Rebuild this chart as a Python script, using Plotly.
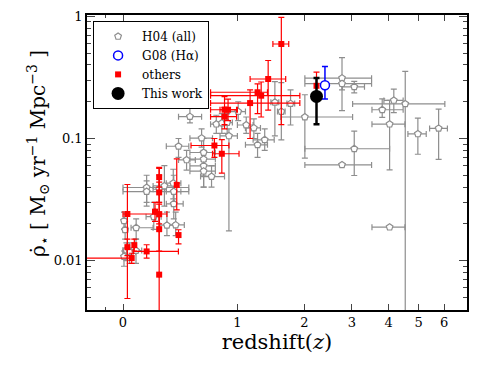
import numpy as np
import plotly.graph_objects as go

# ---------------- data ----------------
# H04 (all) compilation: redshift, redshift range, SFRD and its range
h04_z   = [2.77, 2.77, 3.06, 4.16, 4.53, 3.81, 4.03, 4.97, 5.77, 3.06, 2.77, 4.03, 2.01,
           1.51, 1.61, 1.76, 1.36, 1.26, 1.01, 1.11, 1.21, 0.50, 0.76, 0.82, 0.88, 0.61,
           0.90, 0.40, 0.47, 0.63, 0.63, 0.63, 0.63, 0.71, 0.154, 0.154, 0.245, 0.285,
           0.356, 0.36, 0.36, 0.006, 0.013, 0.083, 0.205, 0.305, 0.376, 0.006, 0.021, 0.041, 0.082]
h04_zlo = [2.01, 2.01, 2.78, 3.86, 3.02, 3.52, 3.52, 4.62, 5.41, 2.01, 2.01, 3.52, 1.60,
           1.45, 1.55, 1.70, 1.20, 1.10, 0.90, 1.00, 1.10, 0.40, 0.70, 0.76, 0.82, 0.50,
           0.80, 0.30, 0.40, 0.50, 0.50, 0.50, 0.50, 0.60, 0.0, 0.0, 0.20, 0.20,
           0.30, 0.30, 0.30, 0.0, 0.0, 0.05, 0.15, 0.25, 0.30, 0.0, 0.0, 0.0, 0.05]
h04_zhi = [3.51, 3.51, 3.32, 4.46, 6.03, 4.46, 4.52, 5.28, 6.14, 4.03, 3.51, 4.52, 3.02,
           1.57, 1.67, 1.83, 1.50, 1.40, 1.10, 1.20, 1.30, 0.61, 0.82, 0.88, 0.94, 0.72,
           1.00, 0.49, 0.55, 0.75, 0.75, 0.75, 0.75, 0.85, 0.49, 0.49, 0.30, 0.36,
           0.42, 0.42, 0.44, 0.02, 0.03, 0.20, 0.26, 0.36, 0.45, 0.02, 0.05, 0.08, 0.12]
h04_rho = [0.312, 0.281, 0.265, 0.205, 0.192, 0.172, 0.131, 0.109, 0.121, 0.0824, 0.0608, 0.0188, 0.150,
           0.198, 0.166, 0.193, 0.0976, 0.0887, 0.166, 0.129, 0.122, 0.151, 0.131, 0.134, 0.135, 0.1007,
           0.105, 0.0864, 0.0668, 0.0768, 0.0677, 0.0597, 0.054, 0.0488, 0.0397, 0.0368, 0.0384, 0.0409,
           0.0431, 0.0368, 0.0292, 0.0212, 0.0179, 0.0186, 0.0229, 0.0195, 0.0196, 0.0108, 0.0122, 0.0118, 0.0121]
h04_rlo = [0.169, 0.25, 0.236, 0.163, 0.001, 0.149, 0.0553, 0.0743, 0.0674, 0.0498, 0.0608, 0.0188, 0.069,
           0.105, 0.0976, 0.129, 0.08, 0.07, 0.14, 0.11, 0.10, 0.134, 0.11, 0.11, 0.11, 0.085,
           0.0175, 0.07, 0.055, 0.06, 0.05, 0.04, 0.04, 0.04, 0.03, 0.028, 0.03, 0.028,
           0.032, 0.028, 0.022, 0.018, 0.015, 0.015, 0.018, 0.016, 0.016, 0.009, 0.010, 0.0095, 0.0095]
h04_rhi = [0.46, 0.31, 0.293, 0.254, 0.354, 0.211, 0.205, 0.147, 0.174, 0.115, 0.0608, 0.0188, 0.228,
           0.292, 0.287, 0.25, 0.12, 0.11, 0.20, 0.15, 0.145, 0.178, 0.155, 0.16, 0.16, 0.12,
           0.12, 0.10, 0.08, 0.10, 0.08, 0.07, 0.065, 0.06, 0.05, 0.045, 0.05, 0.06,
           0.056, 0.05, 0.037, 0.025, 0.021, 0.022, 0.03, 0.025, 0.025, 0.012, 0.014, 0.014, 0.015]

# others
oth_z   = [1.61, 1.41, 1.26, 1.31, 1.16, 0.85, 0.89, 0.85, 0.74, 0.82, 0.245, 0.245, 0.385, 0.027,
           0.214, 0.245, 0.245, 0.40, 0.027, 0.071, 0.154, 0.054, 0.245, 2.23]
oth_zlo = [1.48, 1.16, 0.70, 0.70, 0.70, 0.70, 0.80, 0.70, 0.51, 0.72, 0.245, 0.245, 0.385, 0.0,
           0.214, 0.245, 0.245, 0.40, 0.027, 0.071, 0.065, -0.5, 0.245, 2.23]
oth_zhi = [1.73, 1.68, 1.40, 1.92, 1.92, 1.00, 0.99, 0.99, 0.90, 1.02, 0.245, 0.245, 0.385, 0.305,
           0.214, 0.245, 0.245, 0.40, 0.027, 0.071, 0.399, 0.06, 0.245, 2.23]
oth_rho = [0.594, 0.307, 0.239, 0.224, 0.195, 0.172, 0.172, 0.151, 0.0876, 0.075, 0.0483, 0.0362, 0.0417, 0.0241,
           0.0252, 0.0240, 0.0181, 0.0162, 0.0129, 0.0134, 0.0119, 0.0105, 0.00768, 0.270]
oth_rlo = [0.13, 0.171, 0.16, 0.15, 0.10, 0.13, 0.14, 0.12, 0.07, 0.052, 0.04, 0.03, 0.026, 0.0049,
           0.021, 0.020, 0.012, 0.0137, 0.011, 0.012, 0.0105, 0.0095, 0.001, 0.22]
oth_rhi = [0.98, 0.435, 0.28, 0.29, 0.25, 0.22, 0.21, 0.18, 0.10, 0.098, 0.058, 0.044, 0.068, 0.042,
           0.030, 0.029, 0.025, 0.0179, 0.015, 0.015, 0.0135, 0.0115, 0.057, 0.35]

# G08 (H-alpha)
g08_z, g08_rho, g08_rlo, g08_rhi = [2.40], [0.273], [0.211], [0.389]
# This work
tw_z, tw_rho, tw_rlo, tw_rhi = [2.23], [0.221], [0.131], [0.313]

x_ticks = [0, 1, 2, 3, 4, 5, 6]
y_ticks = [0.01, 0.1, 1]
y_ticklabels = ["0.01", "0.1", "1"]


def xerr(z, lo, hi):
    z = np.array(z); lo = np.array(lo); hi = np.array(hi)
    return dict(type="data", symmetric=False, array=list(hi - z), arrayminus=list(z - lo))


def yerr(r, lo, hi):
    r = np.array(r); lo = np.array(lo); hi = np.array(hi)
    return dict(type="data", symmetric=False, array=list(hi - r), arrayminus=list(r - lo))


GRAY = "#8e8e8e"
fig = go.Figure()

fig.add_trace(go.Scatter(
    x=list(1 + np.array(h04_z)), y=h04_rho, mode="markers", name="H04 (all)", legendrank=1,
    marker=dict(symbol="pentagon", size=7, color="white", line=dict(color=GRAY, width=1.2)),
    error_x=dict(**xerr(h04_z, h04_zlo, h04_zhi), color=GRAY, thickness=1.2, width=3),
    error_y=dict(**yerr(h04_rho, h04_rlo, h04_rhi), color=GRAY, thickness=1.2, width=3),
))
fig.add_trace(go.Scatter(
    x=list(1 + np.array(oth_z)), y=oth_rho, mode="markers", name="others", legendrank=3,
    marker=dict(symbol="square", size=6, color="#ff0000"),
    error_x=dict(**xerr(oth_z, oth_zlo, oth_zhi), color="#ff0000", thickness=1.2, width=3),
    error_y=dict(**yerr(oth_rho, oth_rlo, oth_rhi), color="#ff0000", thickness=1.2, width=3),
))
fig.add_trace(go.Scatter(
    x=list(1 + np.array(g08_z)), y=g08_rho, mode="markers", name="G08 (H\u03b1)", legendrank=2,
    marker=dict(symbol="circle", size=9, color="white", line=dict(color="#0000ff", width=1.5)),
    error_y=dict(**yerr(g08_rho, g08_rlo, g08_rhi), color="#0000ff", thickness=1.5, width=3),
))
fig.add_trace(go.Scatter(
    x=list(1 + np.array(tw_z)), y=tw_rho, mode="markers", name="This work", legendrank=4,
    marker=dict(symbol="circle", size=13, color="black"),
    error_y=dict(**yerr(tw_rho, tw_rlo, tw_rhi), color="black", thickness=2.5, width=3),
))

FONT = "DejaVu Serif"
fig.update_layout(
    width=491, height=368,
    margin=dict(l=79, r=32, t=7, b=66, autoexpand=False),
    paper_bgcolor="white", plot_bgcolor="white",
    font=dict(family=FONT, size=13, color="black"),
    showlegend=True,
    legend=dict(x=0.016, y=0.98, xanchor="left", yanchor="top",
                bordercolor="black", borderwidth=1, bgcolor="white",
                font=dict(family=FONT, size=12), tracegroupgap=0, itemwidth=38),
    annotations=[dict(
        text="\u03c1\u0307<sub>\u22c6</sub> [ M<sub>\u2299</sub> yr<sup>\u22121</sup> Mpc<sup>\u22123</sup> ]",
        xref="paper", yref="paper", x=-0.128, y=0.53, xanchor="center", yanchor="middle",
        textangle=-90, showarrow=False, font=dict(family=FONT, size=20))],
)
fig.update_xaxes(
    type="log", range=[np.log10(0.804), np.log10(8.04)], automargin=False,
    tickvals=[1 + v for v in x_ticks], ticktext=[str(v) for v in x_ticks],
    ticks="inside", ticklen=6, tickwidth=1, mirror="allticks",
    showline=True, linecolor="black", linewidth=1.5, showgrid=False, zeroline=False,
    minor=dict(tickvals=[0.9], ticks="inside", ticklen=3, showgrid=False),
    tickfont=dict(family=FONT, size=13),
    title=dict(text="redshift(<i>z</i>)", font=dict(family=FONT, size=21), standoff=4),
)
minor_y = [m * d for d in (0.001, 0.01, 0.1) for m in range(2, 10)]
fig.update_yaxes(
    type="log", range=[-2.404, 0.011], automargin=False,
    tickvals=y_ticks, ticktext=y_ticklabels,
    ticks="inside", ticklen=8, tickwidth=1, mirror="allticks",
    showline=True, linecolor="black", linewidth=1.5, showgrid=False, zeroline=False,
    minor=dict(tickvals=minor_y, ticks="inside", ticklen=4, showgrid=False),
    tickfont=dict(family=FONT, size=13),
)

fig.write_html("out.html")
